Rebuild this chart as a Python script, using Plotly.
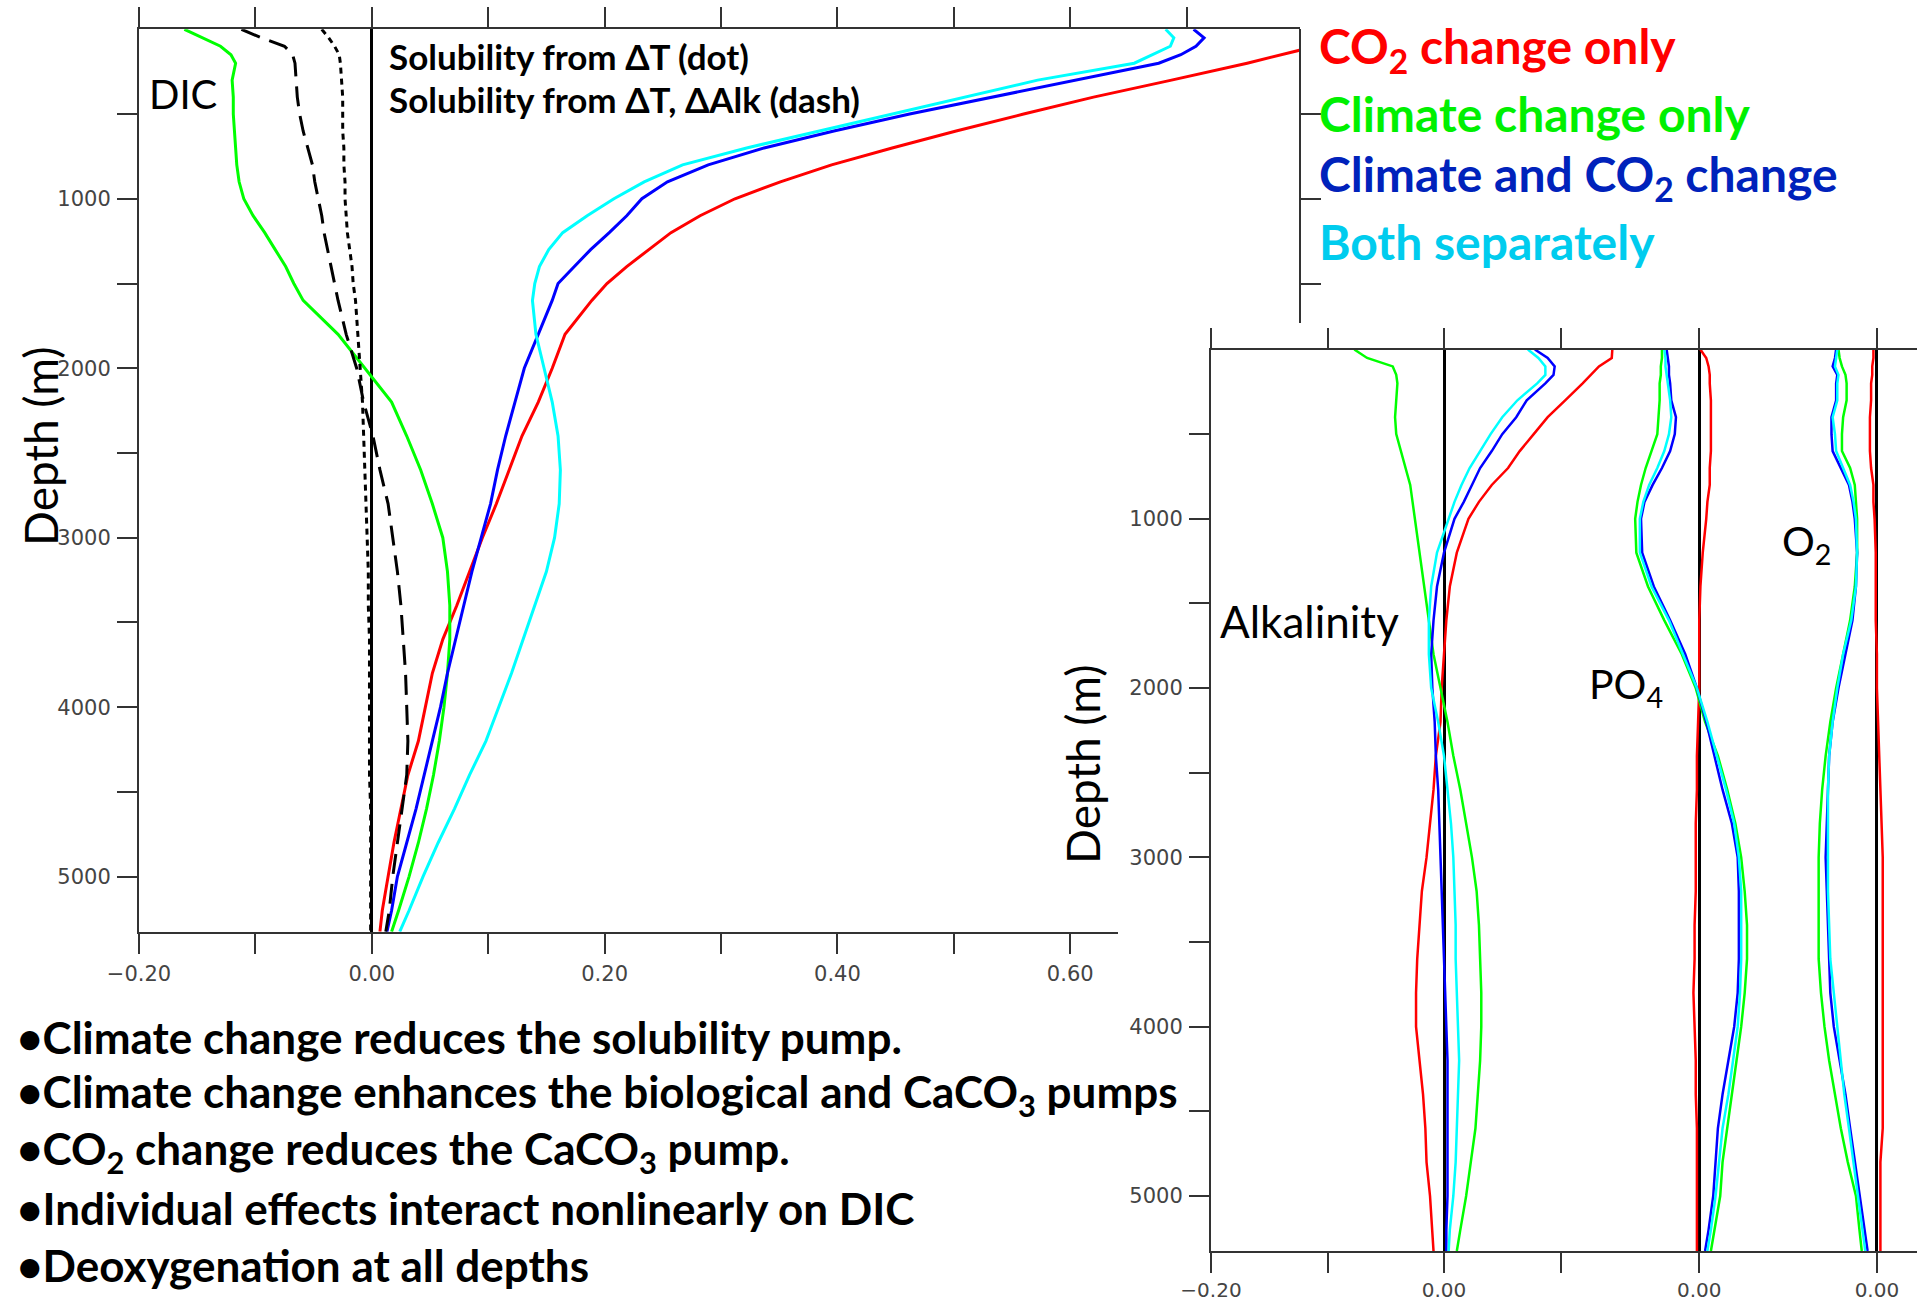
import plotly.graph_objects as go

W, H = 1917, 1303

# ---------------- DIC profiles (main panel) ----------------
dic_depth = [0, 50, 100, 150, 200, 300, 400, 500, 600, 700, 800, 900, 1000, 1100, 1200,
             1300, 1400, 1500, 1600, 1800, 2000, 2200, 2400, 2600, 2800, 3000, 3200, 3400,
             3600, 3800, 4000, 4200, 4400, 4600, 4800, 5000, 5200, 5325]

dic_co2_only = [0.870, 0.840, 0.810, 0.781, 0.752, 0.687, 0.620, 0.560, 0.502, 0.447, 0.395,
                0.351, 0.312, 0.282, 0.257, 0.238, 0.219, 0.202, 0.189, 0.166, 0.155, 0.143,
                0.129, 0.118, 0.107, 0.095, 0.084, 0.073, 0.061, 0.052, 0.046, 0.040, 0.031,
                0.025, 0.019, 0.014, 0.009, 0.007]
dic_climate_only = [-0.161, -0.145, -0.130, -0.121, -0.117, -0.120, -0.119, -0.119, -0.118,
                    -0.117, -0.116, -0.114, -0.110, -0.102, -0.092, -0.083, -0.074, -0.067,
                    -0.059, -0.029, -0.006, 0.017, 0.030, 0.042, 0.052, 0.061, 0.065, 0.067,
                    0.067, 0.065, 0.062, 0.058, 0.053, 0.047, 0.040, 0.032, 0.023, 0.017]
dic_climate_co2 = [0.706, 0.715, 0.708, 0.695, 0.676, 0.605, 0.531, 0.462, 0.397, 0.337, 0.289,
                   0.254, 0.232, 0.219, 0.204, 0.188, 0.174, 0.160, 0.155, 0.143, 0.131, 0.123,
                   0.115, 0.108, 0.102, 0.094, 0.086, 0.079, 0.072, 0.065, 0.059, 0.052, 0.045,
                   0.038, 0.030, 0.022, 0.017, 0.013]
dic_both_sep = [0.682, 0.689, 0.686, 0.670, 0.655, 0.572, 0.509, 0.448, 0.383, 0.322, 0.267,
                0.234, 0.208, 0.185, 0.164, 0.152, 0.144, 0.140, 0.138, 0.141, 0.148, 0.155,
                0.160, 0.162, 0.161, 0.157, 0.150, 0.140, 0.130, 0.120, 0.109, 0.098, 0.084,
                0.071, 0.057, 0.044, 0.032, 0.024]
dic_sol_dT = [-0.043, -0.037, -0.032, -0.028, -0.027, -0.026, -0.025, -0.025, -0.025, -0.024,
              -0.024, -0.023, -0.023, -0.022, -0.021, -0.019, -0.017, -0.016, -0.014, -0.012,
              -0.010, -0.008, -0.007, -0.006, -0.005, -0.004, -0.003, -0.003, -0.002, -0.002,
              -0.002, -0.002, -0.002, -0.001, -0.001, -0.001, -0.001, -0.001]
dic_sol_dT_dAlk = [-0.112, -0.095, -0.075, -0.068, -0.066, -0.065, -0.064, -0.062, -0.059,
                   -0.055, -0.051, -0.049, -0.046, -0.043, -0.041, -0.038, -0.035, -0.032,
                   -0.029, -0.022, -0.013, -0.007, 0.001, 0.007, 0.014, 0.018, 0.022, 0.025,
                   0.027, 0.029, 0.030, 0.031, 0.030, 0.026, 0.022, 0.018, 0.015, 0.012]

# ---------------- Alkalinity, PO4, O2 profiles (inset) ----------------
in_depth = [0, 50, 100, 150, 200, 300, 400, 500, 600, 700, 800, 900, 1000, 1200, 1400, 1600,
            1800, 2000, 2200, 2400, 2600, 2800, 3000, 3200, 3400, 3600, 3800, 4000, 4200, 4400,
            4600, 4800, 5000, 5200, 5325]

alk_co2_only = [0.1445, 0.144, 0.133, 0.126, 0.119, 0.104, 0.089, 0.077, 0.065, 0.055, 0.041,
                0.030, 0.021, 0.011, 0.005, 0.002, 0.000, -0.002, -0.003, -0.007, -0.009,
                -0.012, -0.015, -0.019, -0.021, -0.023, -0.024, -0.024, -0.021, -0.018, -0.016,
                -0.015, -0.012, -0.010, -0.009]
alk_climate_only = [-0.077, -0.066, -0.044, -0.041, -0.040, -0.041, -0.042, -0.041, -0.037,
                    -0.033, -0.029, -0.027, -0.025, -0.021, -0.017, -0.013, -0.009, -0.003,
                    0.003, 0.008, 0.014, 0.019, 0.024, 0.028, 0.030, 0.031, 0.032, 0.032, 0.031,
                    0.029, 0.027, 0.023, 0.019, 0.014, 0.011]
alk_climate_co2 = [0.078, 0.089, 0.095, 0.094, 0.087, 0.071, 0.062, 0.050, 0.041, 0.031, 0.024,
                   0.017, 0.009, 0.000, -0.006, -0.009, -0.011, -0.010, -0.008, -0.007, -0.005,
                   -0.004, -0.003, -0.002, -0.001, 0.000, 0.001, 0.002, 0.003, 0.003, 0.003,
                   0.003, 0.003, 0.002, 0.002]
alk_both_sep = [0.072, 0.081, 0.087, 0.087, 0.080, 0.063, 0.050, 0.040, 0.031, 0.022, 0.015,
                0.009, 0.004, -0.006, -0.011, -0.013, -0.013, -0.011, -0.005, 0.000, 0.003,
                0.006, 0.008, 0.009, 0.010, 0.010, 0.011, 0.012, 0.013, 0.012, 0.011, 0.010,
                0.008, 0.005, 0.004]

po4_co2_only = [0.001, 0.006, 0.008, 0.009, 0.009, 0.010, 0.010, 0.010, 0.010, 0.009, 0.009,
                0.007, 0.006, 0.003, 0.001, 0.000, 0.000, 0.000, -0.001, -0.002, -0.002,
                -0.003, -0.003, -0.003, -0.004, -0.004, -0.005, -0.004, -0.003, -0.003, -0.002,
                -0.002, -0.002, -0.002, -0.002]
po4_climate_only = [-0.032, -0.032, -0.033, -0.033, -0.034, -0.034, -0.035, -0.036, -0.041,
                    -0.046, -0.050, -0.053, -0.055, -0.054, -0.044, -0.030, -0.015, -0.003,
                    0.005, 0.016, 0.024, 0.031, 0.036, 0.039, 0.041, 0.041, 0.039, 0.036, 0.032,
                    0.028, 0.024, 0.020, 0.018, 0.013, 0.010]
po4_climate_co2 = [-0.028, -0.027, -0.026, -0.026, -0.025, -0.024, -0.020, -0.021, -0.025,
                   -0.032, -0.040, -0.047, -0.050, -0.049, -0.039, -0.025, -0.012, -0.002,
                   0.006, 0.013, 0.020, 0.028, 0.033, 0.034, 0.034, 0.034, 0.033, 0.030, 0.025,
                   0.020, 0.016, 0.014, 0.012, 0.008, 0.005]
po4_both_sep = [-0.030, -0.029, -0.029, -0.028, -0.027, -0.025, -0.024, -0.026, -0.030,
                -0.036, -0.043, -0.048, -0.051, -0.051, -0.041, -0.026, -0.014, -0.002, 0.007,
                0.015, 0.023, 0.030, 0.034, 0.036, 0.036, 0.036, 0.035, 0.033, 0.029, 0.025,
                0.020, 0.017, 0.014, 0.010, 0.007]

o2_co2_only = [-0.003, -0.003, -0.004, -0.004, -0.005, -0.005, -0.006, -0.006, -0.006, -0.005,
               -0.003, -0.003, -0.002, -0.001, -0.001, -0.001, 0.000, 0.000, 0.001, 0.002,
               0.003, 0.004, 0.005, 0.005, 0.005, 0.005, 0.005, 0.005, 0.005, 0.005, 0.005,
               0.003, 0.003, 0.003, 0.003]
o2_climate_only = [-0.033, -0.032, -0.030, -0.027, -0.026, -0.026, -0.029, -0.030, -0.030,
                   -0.023, -0.019, -0.018, -0.017, -0.017, -0.019, -0.023, -0.029, -0.035,
                   -0.040, -0.044, -0.047, -0.049, -0.050, -0.050, -0.050, -0.050, -0.048,
                   -0.045, -0.041, -0.036, -0.031, -0.025, -0.018, -0.015, -0.013]
o2_climate_co2 = [-0.035, -0.036, -0.038, -0.034, -0.035, -0.035, -0.039, -0.039, -0.038,
                  -0.031, -0.024, -0.021, -0.019, -0.017, -0.018, -0.021, -0.027, -0.033,
                  -0.038, -0.041, -0.042, -0.043, -0.044, -0.043, -0.042, -0.041, -0.040,
                  -0.037, -0.032, -0.027, -0.023, -0.019, -0.015, -0.011, -0.008]
o2_both_sep = [-0.034, -0.035, -0.036, -0.033, -0.034, -0.034, -0.038, -0.036, -0.035, -0.029,
               -0.023, -0.020, -0.018, -0.017, -0.018, -0.022, -0.029, -0.034, -0.038, -0.041,
               -0.042, -0.042, -0.042, -0.042, -0.041, -0.040, -0.037, -0.034, -0.031, -0.028,
               -0.024, -0.020, -0.016, -0.012, -0.010]

scenario_names = ["CO<sub>2</sub> change only", "Climate change only",
                  "Climate and CO<sub>2</sub> change", "Both separately"]
line_colors = ["#ff0000", "#00ff00", "#0000ff", "#00ffff"]
label_colors = ["#ff0000", "#00f000", "#0022bb", "#00ccee"]

bullets = [
    "•Climate change reduces the solubility pump.",
    "•Climate change enhances the biological and CaCO<sub>3</sub> pumps",
    "•CO<sub>2</sub> change reduces the CaCO<sub>3</sub> pump.",
    "•Individual effects interact nonlinearly on DIC",
    "•Deoxygenation at all depths",
]

# x positions (inset frame units) where the PO4 and O2 panels have their zero
PO4_ZERO = 0.2191
O2_ZERO = 0.3716

FONT = "Lato"
TICKFONT = dict(family="DejaVu Sans", size=21, color="#444")


def px_x(p):
    return p / W


def px_y(p):
    return 1 - p / H


fig = go.Figure()

# main panel: DIC scenario profiles
for vals, color in zip([dic_co2_only, dic_climate_only, dic_climate_co2, dic_both_sep],
                       line_colors):
    fig.add_trace(go.Scatter(x=vals, y=dic_depth, mode="lines", xaxis="x", yaxis="y",
                             line=dict(color=color, width=3), showlegend=False,
                             hoverinfo="skip"))
# solubility-only estimates, drawn against the labelled bottom axis (same scale)
fig.add_trace(go.Scatter(x=dic_sol_dT, y=dic_depth, mode="lines", xaxis="x3", yaxis="y",
                         line=dict(color="black", width=3, dash="6px,5px"),
                         showlegend=False, hoverinfo="skip"))
fig.add_trace(go.Scatter(x=dic_sol_dT_dAlk, y=dic_depth, mode="lines", xaxis="x3", yaxis="y",
                         line=dict(color="black", width=3, dash="20px,10px"),
                         showlegend=False, hoverinfo="skip"))
# keeps the short right-hand depth axis registered
fig.add_trace(go.Scatter(x=[], y=[], mode="lines", xaxis="x", yaxis="y3",
                         showlegend=False, hoverinfo="skip"))

# inset: alkalinity (x2), PO4 (x4), O2 (x5)
for axis, group in [("x2", [alk_co2_only, alk_climate_only, alk_climate_co2, alk_both_sep]),
                    ("x4", [po4_co2_only, po4_climate_only, po4_climate_co2, po4_both_sep]),
                    ("x5", [o2_co2_only, o2_climate_only, o2_climate_co2, o2_both_sep])]:
    for vals, color in zip(group, line_colors):
        fig.add_trace(go.Scatter(x=vals, y=in_depth, mode="lines", xaxis=axis, yaxis="y2",
                                 line=dict(color=color, width=2.5), showlegend=False,
                                 hoverinfo="skip"))

AX = dict(showline=True, linecolor="#333", linewidth=2, ticks="outside", ticklen=20,
          tickwidth=2, tickcolor="#333", showgrid=False, zeroline=False, tickfont=TICKFONT,
          ticklabelstandoff=2, fixedrange=True, automargin=False)
ZL = dict(zeroline=True, zerolinecolor="black", zerolinewidth=3)
# inset bottom labels sit close to the page edge
INSET_X = {**AX, **ZL, "ticklabelstandoff": 0,
           "tickfont": dict(family="DejaVu Sans", size=20, color="#444")}

main_x_ticks = [round(-0.2 + 0.1 * i, 1) for i in range(10)]
bottom_x_ticks = [round(-0.2 + 0.1 * i, 1) for i in range(9)]
bottom_x_text = ["−0.20", "", "0.00", "", "0.20", "", "0.40", "", "0.60"]
depth_ticks = list(range(500, 5001, 500))
depth_text = [str(d) if d % 1000 == 0 else "" for d in depth_ticks]

MAIN_L, MAIN_R, MAIN_T, MAIN_B = 139, 1300, 29.3, 931.7
INS_L, INS_T, INS_B = 1211, 349.5, 1251
X_MAX = 0.7974
PX_PER_UNIT = (MAIN_R - MAIN_L) / (X_MAX + 0.2)
DEPTH_MAX = 5325
BOTTOM_AXIS_END = 1118
RIGHT_AXIS_END = 323
INS_X_MAX = -0.2 + (W - INS_L) / 1165

fig.update_layout(
    width=W, height=H, autosize=False,
    margin=dict(l=0, r=0, t=0, b=0, pad=0, autoexpand=False),
    paper_bgcolor="white", plot_bgcolor="rgba(0,0,0,0)",
    showlegend=False,
    # main panel: top axis carries the scenario profiles and the zero line
    xaxis={**AX, **ZL, "domain": [px_x(MAIN_L), px_x(MAIN_R)], "range": [-0.2, X_MAX],
           "side": "top", "anchor": "y", "tickvals": main_x_ticks, "showticklabels": False},
    yaxis={**AX, "domain": [px_y(MAIN_B), px_y(MAIN_T)], "range": [DEPTH_MAX, 0],
           "anchor": "x", "side": "left", "tickvals": depth_ticks, "ticktext": depth_text},
    # main panel: labelled bottom axis, stops where the inset begins
    xaxis3={**AX, "domain": [px_x(MAIN_L), px_x(BOTTOM_AXIS_END)],
            "range": [-0.2, -0.2 + (BOTTOM_AXIS_END - MAIN_L) / PX_PER_UNIT],
            "anchor": "y", "side": "bottom", "tickvals": bottom_x_ticks,
            "ticktext": bottom_x_text},
    # main panel: short right-hand axis above the inset
    yaxis3={**AX, "domain": [px_y(RIGHT_AXIS_END), px_y(MAIN_T)],
            "range": [DEPTH_MAX * (RIGHT_AXIS_END - MAIN_T) / (MAIN_B - MAIN_T), 0],
            "anchor": "free", "position": px_x(MAIN_R), "side": "right",
            "tickvals": [500, 1000, 1500], "showticklabels": False},
    # inset panels
    xaxis2={**INSET_X, "domain": [px_x(INS_L), 1.0], "range": [-0.2, INS_X_MAX],
            "anchor": "y2", "side": "bottom", "mirror": "ticks",
            "tickvals": [-0.2, -0.1, 0.0, 0.1], "ticktext": ["−0.20", "", "0.00", ""]},
    xaxis4={**INSET_X, "overlaying": "x2", "anchor": "y2", "side": "bottom", "mirror": "ticks",
            "range": [-0.2 - PO4_ZERO, INS_X_MAX - PO4_ZERO],
            "tickvals": [0.0], "ticktext": ["0.00"]},
    xaxis5={**INSET_X, "overlaying": "x2", "anchor": "y2", "side": "bottom", "mirror": "ticks",
            "range": [-0.2 - O2_ZERO, INS_X_MAX - O2_ZERO],
            "tickvals": [0.0], "ticktext": ["0.00"]},
    yaxis2={**AX, "domain": [px_y(INS_B), px_y(INS_T)], "range": [DEPTH_MAX, 0],
            "anchor": "x2", "side": "left", "tickvals": depth_ticks, "ticktext": depth_text},
)


def note(text, x, y, size, color="black", bold=False, xanchor="left", angle=0):
    if bold:
        text = "<b>" + text + "</b>"
    return dict(text=text, x=px_x(x), y=px_y(y), xref="paper", yref="paper",
                xanchor=xanchor, yanchor="middle", showarrow=False, textangle=angle,
                font=dict(family=FONT, size=size, color=color))


annotations = [
    note("DIC", 147, 94, 40),
    note("Solubility from ΔT (dot)", 387, 56, 35, bold=True),
    note("Solubility from ΔT, ΔAlk (dash)", 387, 99, 35, bold=True),
    note("Depth (m)", 40, 446, 46, xanchor="center", angle=-90),
    note("Depth (m)", 1082, 764, 46, xanchor="center", angle=-90),
    note("Alkalinity", 1218, 621, 44),
    note("PO<sub>4</sub>", 1587, 686, 41),
    note("O<sub>2</sub>", 1780, 543, 41),
]
for i, (name, color) in enumerate(zip(scenario_names, label_colors)):
    annotations.append(note(name, 1317, 49 + 64 * i, 48, color=color, bold=True))
for i, line in enumerate(bullets):
    annotations.append(note(line, 15, 1037 + 57 * i, 44, bold=True))

fig.update_layout(annotations=annotations)

fig.write_html("out.html")
